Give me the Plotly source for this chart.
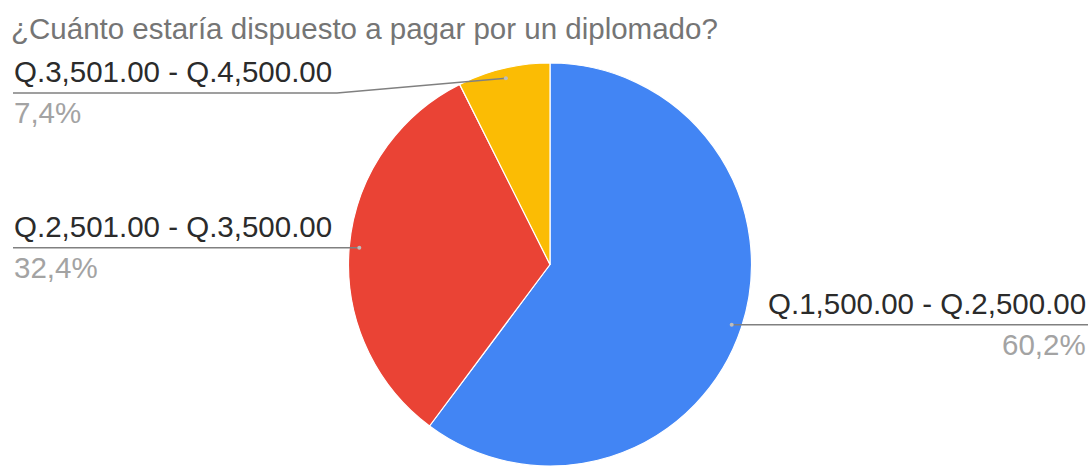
import math
import plotly.graph_objects as go

# Survey answers: price range willing to pay for a diploma course
categories = ["Q.1,500.00 - Q.2,500.00", "Q.2,501.00 - Q.3,500.00", "Q.3,501.00 - Q.4,500.00"]
shares = [60.2, 32.4, 7.4]
pct_labels = ["60,2%", "32,4%", "7,4%"]
colors = ["#4285F4", "#EA4335", "#FBBC04"]
title_text = "¿Cuánto estaría dispuesto a pagar por un diplomado?"

W, H = 1092, 466
CX, CY, R = 550.0, 264.5, 201.5  # pie centre and radius in pixels
FONT = "Arial, Liberation Sans, sans-serif"

fig = go.Figure()

fig.add_trace(go.Pie(
    labels=categories,
    values=shares,
    sort=False,
    direction="clockwise",
    rotation=0,
    marker=dict(colors=colors, line=dict(color="white", width=1.2)),
    textinfo="none",
    hoverinfo="label+percent",
    showlegend=False,
    domain=dict(x=[(CX - R) / W, (CX + R) / W], y=[(H - CY - R) / H, (H - CY + R) / H]),
))

# Anchor point of each leader line, placed inside the slice at its mid-angle
total = sum(shares)
anchors = []
acc = 0.0
for v in shares:
    mid = (acc + v / 2) / total * 2 * math.pi
    acc += v
    rr = 0.95 * R
    anchors.append((CX + rr * math.sin(mid), CY - rr * math.cos(mid)))

def px(x):
    return x / W

def py(y):
    return 1 - y / H

shapes = []
annotations = []
LABEL_COLOR = "#2b2b2b"
PCT_COLOR = "#a3a3a3"
FS = 29.5

# (side, underline y, text x) for each label
label_rows = [("right", None, 1087), ("left", None, 13), ("left", 93, 13)]

for i, (side, row_y, tx) in enumerate(label_rows):
    ax, ay = anchors[i]
    ly = ay if row_y is None else row_y
    if side == "right":
        path = f"M {px(ax)} {py(ay)} L {px(tx + 1)} {py(ly)}"
    else:
        if row_y is None:
            path = f"M {px(ax)} {py(ay)} L {px(tx)} {py(ly)}"
        else:
            path = (f"M {px(ax)} {py(ay)} L {px(337)} {py(ly)} "
                    f"L {px(tx)} {py(ly)}")
    shapes.append(dict(type="path", path=path, xref="paper", yref="paper",
                       line=dict(color="#808080", width=1.4), layer="above"))
    shapes.append(dict(type="circle", xref="paper", yref="paper",
                       x0=px(ax - 2), x1=px(ax + 2), y0=py(ay - 2), y1=py(ay + 2),
                       fillcolor="#bdbdbd", line=dict(width=0), layer="above"))
    anchor = "right" if side == "right" else "left"
    annotations.append(dict(x=px(tx), y=py(ly - 4), xref="paper", yref="paper",
                            xanchor=anchor, yanchor="bottom", showarrow=False,
                            text=categories[i], borderpad=0,
                            font=dict(family=FONT, size=FS, color=LABEL_COLOR)))
    annotations.append(dict(x=px(tx), y=py(ly + 2), xref="paper", yref="paper",
                            xanchor=anchor, yanchor="top", showarrow=False,
                            text=pct_labels[i], borderpad=0,
                            font=dict(family=FONT, size=FS, color=PCT_COLOR)))

annotations.append(dict(x=px(10), y=py(11), xref="paper", yref="paper",
                        xanchor="left", yanchor="top", showarrow=False,
                        text=title_text, borderpad=0,
                        font=dict(family=FONT, size=29.5, color="#757575")))

fig.update_layout(
    width=W, height=H,
    margin=dict(l=0, r=0, t=0, b=0),
    paper_bgcolor="white",
    plot_bgcolor="white",
    shapes=shapes,
    annotations=annotations,
)

fig.write_html("out.html")
